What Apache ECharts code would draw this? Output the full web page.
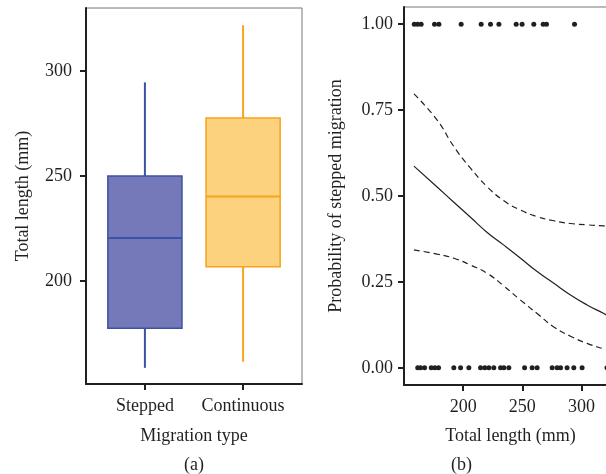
<!DOCTYPE html>
<html>
<head>
<meta charset="utf-8">
<script src="https://cdn.jsdelivr.net/npm/echarts@6/dist/echarts.min.js"></script>
<style>
  html, body { margin: 0; padding: 0; background: #fff; }
  #main { width: 606px; height: 474px; }
</style>
</head>
<body>
<div id="main"></div>
<script>
// panel (a): box stats per migration type  [min, Q1, median, Q3, max]
var categories = ['Stepped', 'Continuous'];
var boxStats = [
  [158.7, 177.5, 220.5, 250.0, 294.6],
  [161.6, 206.8, 240.3, 277.6, 321.8]
];
var lengthTicks = [200, 250, 300];

// panel (b): observed fish (1 = stepped, 0 = continuous)
var steppedLengths = [158.7, 161.5, 164.5, 175.8, 179.5, 198.3, 215.2, 223.1, 230.2,
  244.8, 249.8, 259.7, 267.6, 270.4, 294.1];
var continuousLengths = [161.6, 164.0, 167.4, 173.0, 176.1, 179.2, 192.1, 197.8, 204.8,
  214.7, 218.3, 221.7, 225.9, 231.6, 234.4, 238.6, 251.9, 258.3, 262.5, 275.2, 279.4,
  282.3, 287.8, 293.5, 300.5, 321.5];

// fitted probability and confidence band
var fitX     = [158.4, 178.0, 192.1, 206.2, 220.3, 234.4, 248.5, 262.5, 276.6, 290.7, 304.7, 318.8, 322.0];
var fitProb  = [0.587, 0.526, 0.482, 0.438, 0.394, 0.357, 0.319, 0.280, 0.246, 0.212, 0.183, 0.158, 0.152];
var fitUpper = [0.797, 0.721, 0.644, 0.581, 0.527, 0.486, 0.459, 0.440, 0.428, 0.420, 0.416, 0.413, 0.412];
var fitLower = [0.343, 0.331, 0.319, 0.299, 0.275, 0.238, 0.197, 0.158, 0.119, 0.092, 0.071, 0.055, 0.052];
var probTicks = [0, 0.25, 0.5, 0.75, 1];
var xTicksB = [200, 250, 300];

var ink = '#231f20';
var font = 'Liberation Serif';
var fs = 18;
var boxColors = [
  { fill: '#7579b9', line: '#3a53a3' },
  { fill: '#fdd27f', line: '#f8a31c' }
];

function pair(xs, ys) {
  return xs.map(function (x, i) { return [x, ys[i]]; });
}

var axisBase = {
  axisLine: { onZero: false, lineStyle: { color: ink, width: 2 } },
  axisTick: { length: 6, lineStyle: { color: ink, width: 2 } },
  splitLine: { show: false },
  nameLocation: 'middle',
  nameTextStyle: { color: ink, fontFamily: font, fontSize: fs },
  axisLabel: { color: ink, fontFamily: font, fontSize: fs }
};
function axis(extra) {
  var o = JSON.parse(JSON.stringify(axisBase));
  for (var k in extra) {
    if (typeof extra[k] === 'object' && o[k] && !Array.isArray(extra[k])) {
      for (var j in extra[k]) o[k][j] = extra[k][j];
    } else o[k] = extra[k];
  }
  return o;
}

var chart = echarts.init(document.getElementById('main'));

var boxData = boxStats.map(function (s, i) { return [i + 1].concat(s); });

var option = {
  animation: false,
  backgroundColor: '#fff',
  grid: [
    { left: 86, right: 304, top: 8, bottom: 90, outerBoundsMode: 'none',
      show: true, borderColor: '#777', borderWidth: 1 },
    // panel b runs past the right edge of the picture (cropped in the original)
    { left: 404, right: -11, top: 7, bottom: 89, outerBoundsMode: 'none',
      show: true, borderColor: '#777', borderWidth: 1 }
  ],
  xAxis: [
    axis({
      gridIndex: 0, type: 'value', min: 0.4, max: 2.6,
      name: 'Migration type', nameGap: 43,
      axisTick: { customValues: [1, 2] },
      axisLabel: { customValues: [1, 2], margin: 13, formatter: function (v) { return categories[Math.round(v) - 1]; } }
    }),
    axis({
      gridIndex: 1, type: 'value', min: 150, max: 330,
      name: 'Total length (mm)', nameGap: 42,
      axisTick: { customValues: xTicksB },
      axisLabel: { customValues: xTicksB, margin: 13 }
    })
  ],
  yAxis: [
    axis({
      gridIndex: 0, type: 'value', min: 151, max: 330,
      name: 'Total length (mm)', nameGap: 54,
      axisTick: { customValues: lengthTicks },
      axisLabel: { customValues: lengthTicks, margin: 14 }
    }),
    axis({
      gridIndex: 1, type: 'value', min: -0.05, max: 1.05,
      name: 'Probability of stepped migration', nameGap: 59,
      axisTick: { customValues: probTicks },
      axisLabel: { customValues: probTicks, margin: 11, formatter: function (v) { return v.toFixed(2); } }
    })
  ],
  graphic: [
    { type: 'text', x: 194, y: 465, style: { text: '(a)', fill: ink, font: fs + 'px "Liberation Serif"', textAlign: 'center', textVerticalAlign: 'middle' } },
    { type: 'text', x: 461.5, y: 465, style: { text: '(b)', fill: ink, font: fs + 'px "Liberation Serif"', textAlign: 'center', textVerticalAlign: 'middle' } }
  ],
  series: [
    {
      type: 'custom',
      xAxisIndex: 0, yAxisIndex: 0,
      data: boxData,
      encode: { x: 0, y: [1, 2, 3, 4, 5] },
      renderItem: function (params, api) {
        var x = api.value(0);
        var lo = api.coord([x, api.value(1)]);
        var q1 = api.coord([x, api.value(2)]);
        var md = api.coord([x, api.value(3)]);
        var q3 = api.coord([x, api.value(4)]);
        var hi = api.coord([x, api.value(5)]);
        var half = api.size([0.755, 0])[0] / 2;
        var c = boxColors[params.dataIndex];
        return {
          type: 'group',
          children: [
            { type: 'line', shape: { x1: lo[0], y1: lo[1], x2: q1[0], y2: q1[1] }, style: { stroke: c.line, lineWidth: 2 } },
            { type: 'line', shape: { x1: q3[0], y1: q3[1], x2: hi[0], y2: hi[1] }, style: { stroke: c.line, lineWidth: 2 } },
            { type: 'rect', shape: { x: q3[0] - half, y: q3[1], width: half * 2, height: q1[1] - q3[1] },
              style: { fill: c.fill, stroke: c.line, lineWidth: 1.5 } },
            { type: 'line', shape: { x1: md[0] - half, y1: md[1], x2: md[0] + half, y2: md[1] }, style: { stroke: c.line, lineWidth: 2 } }
          ]
        };
      }
    },
    {
      type: 'scatter', xAxisIndex: 1, yAxisIndex: 1,
      symbolSize: 5, itemStyle: { color: ink, opacity: 1 },
      data: steppedLengths.map(function (x) { return [x, 1]; })
    },
    {
      type: 'scatter', xAxisIndex: 1, yAxisIndex: 1,
      symbolSize: 5, itemStyle: { color: ink, opacity: 1 },
      data: continuousLengths.map(function (x) { return [x, 0]; })
    },
    {
      type: 'line', xAxisIndex: 1, yAxisIndex: 1, smooth: true, showSymbol: false,
      lineStyle: { color: ink, width: 1.2 },
      data: pair(fitX, fitProb)
    },
    {
      type: 'line', xAxisIndex: 1, yAxisIndex: 1, smooth: true, showSymbol: false,
      lineStyle: { color: ink, width: 1.2, type: [6, 4] },
      data: pair(fitX, fitUpper)
    },
    {
      type: 'line', xAxisIndex: 1, yAxisIndex: 1, smooth: true, showSymbol: false,
      lineStyle: { color: ink, width: 1.2, type: [6, 4] },
      data: pair(fitX, fitLower)
    }
  ]
};

chart.setOption(option);
</script>
</body>
</html>
